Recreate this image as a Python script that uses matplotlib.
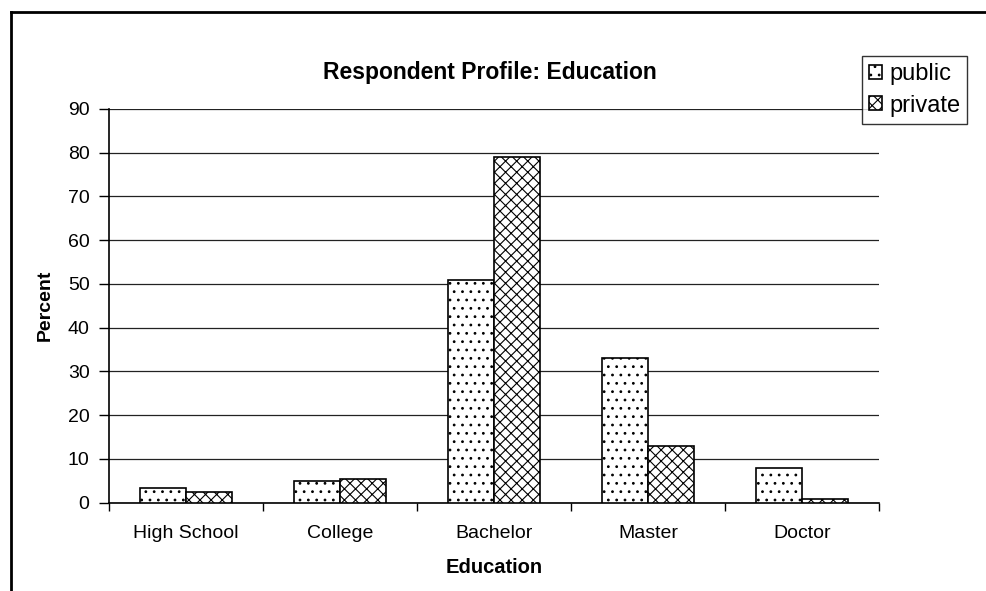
# Respondent profile by education level, public vs private sector
import numpy as np
import matplotlib.pyplot as plt
from matplotlib.lines import Line2D

plt.rcParams['font.family'] = ['Liberation Sans', 'DejaVu Sans']
plt.rcParams['hatch.linewidth'] = 0.8

# Education levels and share of respondents (%)
levels = ['High School', 'College', 'Bachelor', 'Master', 'Doctor']
public = [3.3, 5.0, 51.0, 33.0, 7.8]
private = [2.3, 5.4, 79.0, 13.0, 0.7]

fig = plt.figure(figsize=(9.86, 5.91), dpi=100)
ax = fig.add_axes([0.1105, 0.1497, 0.7810, 0.6659])

x = np.arange(len(levels))
w = 0.3
ax.bar(x - w / 2, public, w, color='white', edgecolor='black', linewidth=1.2,
       hatch='..', label='public', zorder=3)
ax.bar(x + w / 2, private, w, color='white', edgecolor='black', linewidth=1.2,
       hatch='xxx', label='private', zorder=3)

ax.set_xlim(-0.5, len(levels) - 0.5)
ax.set_ylim(0, 90)
ax.set_yticks(np.arange(0, 91, 10))
ax.yaxis.grid(True, color='#222222', linewidth=0.9, zorder=0)
ax.set_axisbelow(True)

# category labels centred, ticks at the category boundaries
ax.set_xticks(x)
ax.set_xticklabels(levels, fontsize=14)
ax.set_xticks(np.arange(-0.5, len(levels)), minor=True)
ax.tick_params(axis='x', which='major', length=0, pad=16)
ax.tick_params(axis='x', which='minor', length=6, width=1, direction='out')
ax.tick_params(axis='y', length=7, width=1, labelsize=14, pad=7)

for s in ['top', 'right']:
    ax.spines[s].set_visible(False)
for s in ['left', 'bottom']:
    ax.spines[s].set_linewidth(1.2)

ax.set_xlabel('Education', fontsize=14.5, fontweight='bold', labelpad=12)
ax.set_ylabel('Percent', fontsize=14, fontweight='bold', labelpad=10)
fig.text(0.497, 1 - 73 / 591, 'Respondent Profile: Education', ha='center',
         va='center', fontsize=16.5, fontweight='bold')

leg = ax.legend(loc='upper left', bbox_to_anchor=(862 / 986, 1 - 56 / 591),
                bbox_transform=fig.transFigure, fontsize=17, frameon=True,
                fancybox=False, edgecolor='black', handlelength=0.55,
                handleheight=0.55, handletextpad=0.3, borderpad=0.3,
                labelspacing=0.4, borderaxespad=0)
leg.get_frame().set_linewidth(1.0)

# outer chart border (top and left edges)
fig.add_artist(Line2D([11 / 986, 1.0], [1 - 12 / 591, 1 - 12 / 591],
                      transform=fig.transFigure, color='black', linewidth=2))
fig.add_artist(Line2D([11 / 986, 11 / 986], [1 - 12 / 591, 0.0],
                      transform=fig.transFigure, color='black', linewidth=2))

fig.savefig('out.png', dpi=100, facecolor='white')
